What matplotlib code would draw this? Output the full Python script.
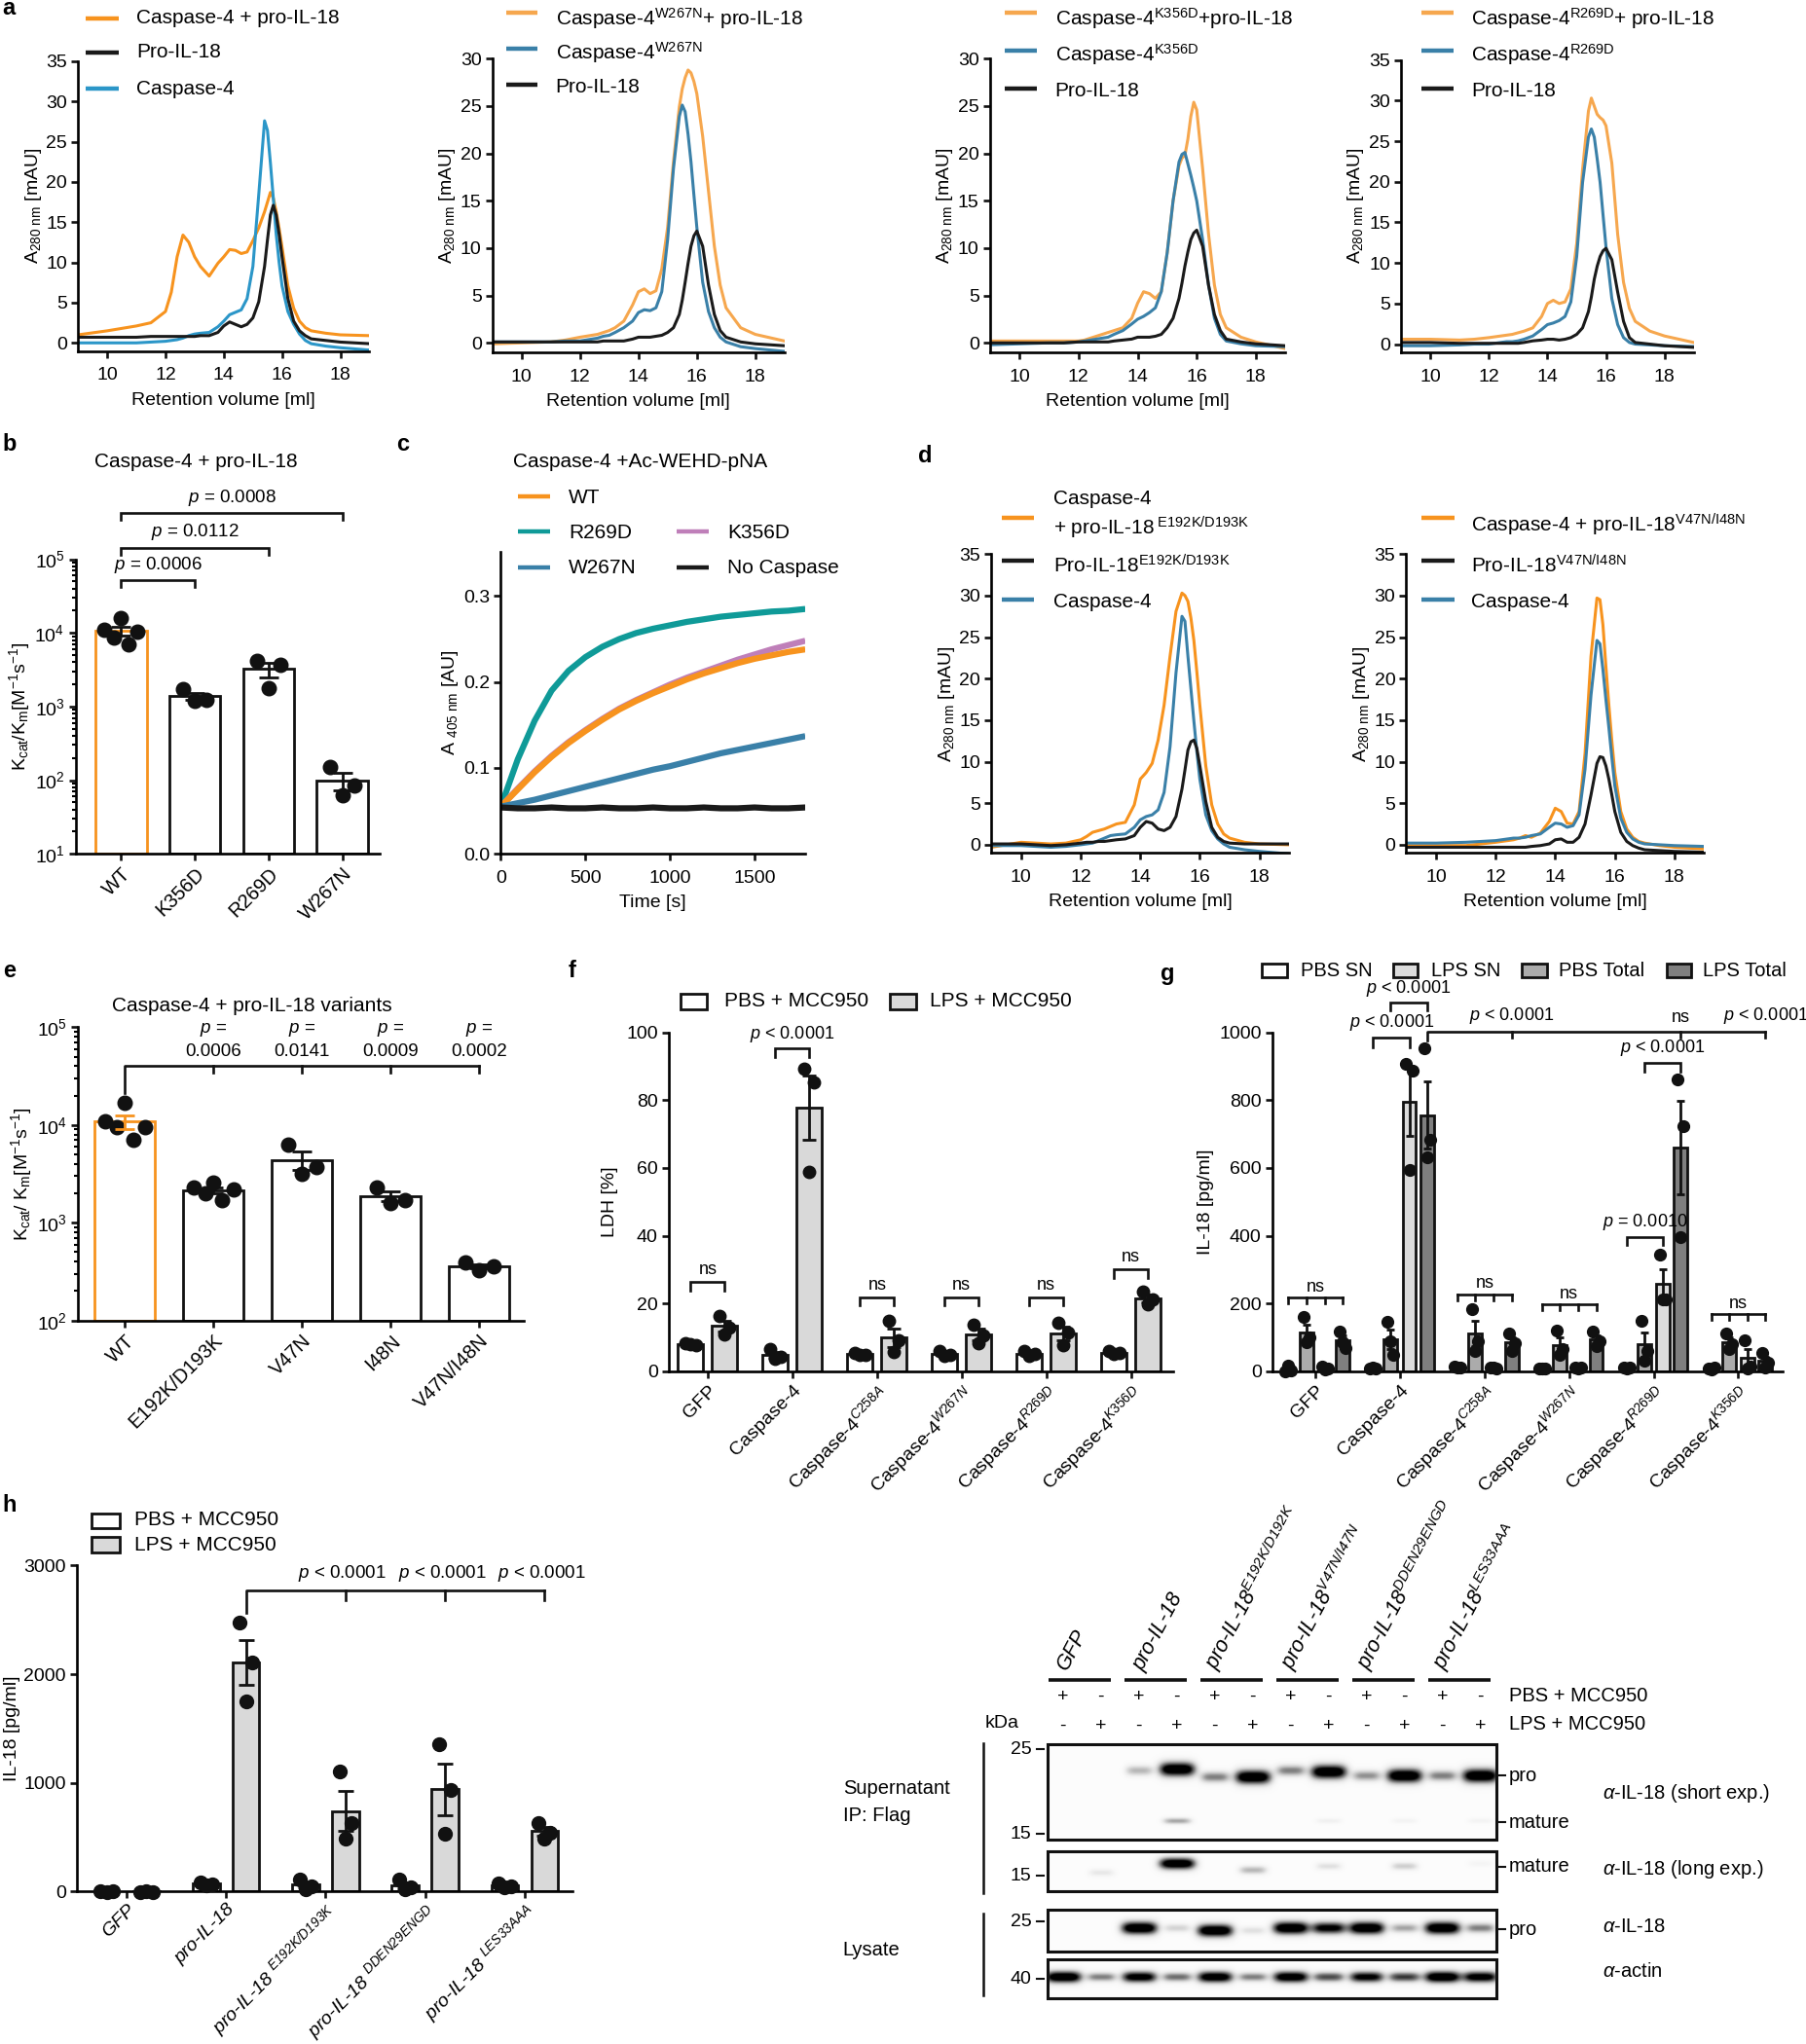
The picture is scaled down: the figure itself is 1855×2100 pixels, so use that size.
import numpy as np
import matplotlib
matplotlib.use('Agg')
import matplotlib.pyplot as plt
from matplotlib.patches import Rectangle
from matplotlib.ticker import LogLocator, NullFormatter

plt.rcParams['font.family'] = ['Liberation Sans', 'DejaVu Sans']
plt.rcParams['mathtext.fontset'] = 'custom'
plt.rcParams['mathtext.rm'] = 'Liberation Sans'
plt.rcParams['mathtext.it'] = 'Liberation Sans:italic'
plt.rcParams['mathtext.bf'] = 'Liberation Sans:bold'

# ---------------- data ----------------
# size-exclusion chromatograms (retention volume in ml, A280 in mAU)
vol = [9, 10, 11, 11.5, 12, 12.2, 12.4, 12.6, 12.8, 13, 13.2, 13.5, 13.8, 14, 14.2,
       14.4, 14.6, 14.8, 15, 15.2, 15.4, 15.5, 15.6, 15.7, 15.8, 15.9, 16, 16.2,
       16.4, 16.6, 16.8, 17, 17.5, 18, 19]

a1_mix = [1.0, 1.5, 2.1, 2.5, 3.9, 6.3, 10.7, 13.4, 12.5, 10.7, 9.5, 8.3, 9.9, 10.7, 11.6, 11.5, 11.1, 11.3,
          12.7, 14.3, 16.3, 17.5, 18.7, 18.0, 16.3, 14.2, 11.9, 7.1, 4.3, 2.7, 1.9, 1.5, 1.2, 1.0, 0.9]
a1_pro = [0.7, 0.7, 0.7, 0.8, 0.8, 0.8, 0.8, 0.8, 0.8, 0.8, 0.9, 0.9, 1.3, 2.1, 2.6, 2.3, 2.0, 2.3,
          3.1, 5.1, 9.5, 12.8, 15.9, 17.1, 15.9, 13.5, 10.7, 5.5, 2.7, 1.5, 0.9, 0.5, 0.3, 0.1, -0.1]
a1_casp = [0.0, 0.0, 0.0, 0.1, 0.2, 0.3, 0.4, 0.6, 0.9, 1.1, 1.2, 1.3, 2.0, 2.7, 3.5, 3.8, 4.1, 5.5,
           9.5, 18.4, 27.6, 26.4, 22.4, 18.0, 13.5, 10.0, 7.1, 3.9, 2.3, 1.1, 0.3, -0.1, -0.4, -0.6, -0.9]

a2_mix = [-0.1, 0.0, 0.1, 0.3, 0.6, 0.7, 0.8, 0.9, 1.1, 1.3, 1.6, 2.3, 4.0, 5.4, 5.7, 5.2, 5.5, 7.8,
          12.2, 19.1, 24.9, 26.8, 28.0, 28.8, 28.5, 27.6, 26.3, 21.8, 16.0, 10.2, 6.1, 3.7, 1.6, 0.9, 0.2]
a2_casp = [0.1, 0.1, 0.1, 0.2, 0.2, 0.3, 0.4, 0.5, 0.7, 0.8, 1.1, 1.6, 2.3, 3.2, 3.5, 3.4, 3.7, 5.4,
           10.9, 18.4, 23.9, 25.1, 24.4, 22.0, 19.1, 15.6, 12.2, 6.4, 3.3, 1.6, 0.6, 0.1, -0.4, -0.6, -0.9]
a2_pro = [0.1, 0.1, 0.1, 0.1, 0.1, 0.1, 0.1, 0.1, 0.2, 0.2, 0.2, 0.2, 0.4, 0.6, 0.6, 0.6, 0.7, 0.8,
          1.1, 1.6, 3.0, 4.5, 6.4, 8.4, 10.2, 11.3, 11.8, 10.2, 6.1, 3.0, 1.3, 0.6, 0.1, -0.1, -0.3]

a3_mix = [0.2, 0.2, 0.2, 0.2, 0.2, 0.3, 0.5, 0.7, 0.9, 1.1, 1.3, 1.6, 2.6, 4.2, 5.4, 5.2, 4.7, 5.4,
          9.5, 15.0, 18.7, 19.5, 19.8, 21.5, 23.9, 25.4, 24.6, 18.4, 11.5, 6.1, 3.0, 1.6, 0.6, 0.1, -0.6]
a3_casp = [-0.2, -0.1, 0.0, 0.0, 0.1, 0.2, 0.3, 0.4, 0.5, 0.6, 0.9, 1.3, 2.0, 2.5, 2.8, 3.2, 3.7, 5.4,
           9.5, 15.0, 19.1, 19.9, 20.1, 18.9, 17.7, 16.4, 15.0, 10.9, 6.1, 2.6, 0.9, 0.2, -0.1, -0.3, -0.4]
a3_pro = [0.0, 0.0, 0.0, 0.0, 0.1, 0.1, 0.1, 0.1, 0.1, 0.1, 0.2, 0.3, 0.4, 0.6, 0.6, 0.6, 0.7, 0.9,
          1.6, 2.6, 4.7, 6.3, 8.1, 9.6, 10.9, 11.6, 11.9, 10.2, 6.1, 3.0, 1.3, 0.4, 0.1, -0.1, -0.3]

a4_mix = [0.6, 0.6, 0.5, 0.6, 0.8, 0.9, 1.0, 1.1, 1.2, 1.4, 1.6, 2.0, 3.4, 5.0, 5.4, 5.0, 5.2, 6.8,
          12.4, 21.5, 28.7, 30.3, 29.3, 28.3, 27.9, 27.6, 26.9, 22.3, 13.5, 7.6, 4.4, 2.8, 1.6, 1.0, 0.2]
a4_casp = [-0.2, -0.2, -0.1, 0.0, 0.0, 0.1, 0.2, 0.3, 0.3, 0.4, 0.6, 1.0, 1.8, 2.4, 2.6, 2.9, 3.4, 5.2,
           10.8, 19.9, 25.5, 26.5, 25.5, 22.8, 19.9, 15.9, 12.0, 5.6, 2.4, 0.8, 0.2, 0.0, -0.1, -0.2, -0.3]
a4_pro = [0.2, 0.2, 0.1, 0.1, 0.1, 0.1, 0.1, 0.1, 0.1, 0.1, 0.2, 0.4, 0.5, 0.6, 0.6, 0.5, 0.6, 0.8,
          1.2, 2.0, 4.0, 5.8, 8.0, 9.6, 10.8, 11.5, 11.8, 10.4, 6.4, 2.8, 0.8, 0.2, 0.0, -0.2, -0.4]

d1_mix = [-0.3, 0.3, 0.1, 0.2, 0.6, 1.0, 1.5, 1.7, 1.9, 2.2, 2.5, 2.7, 4.8, 7.9, 8.7, 9.8, 12.6, 16.8,
          22.7, 28.1, 30.3, 30.0, 29.3, 27.3, 24.6, 20.8, 16.8, 9.5, 4.8, 2.5, 1.3, 0.8, 0.3, 0.1, 0.0]
d1_pro = [0.1, 0.1, -0.1, 0.0, 0.2, 0.3, 0.3, 0.4, 0.4, 0.5, 0.6, 0.7, 1.1, 2.1, 2.8, 2.6, 1.9, 1.7,
          2.1, 3.4, 6.7, 9.0, 11.4, 12.4, 12.6, 11.6, 9.5, 5.2, 2.1, 0.9, 0.4, 0.2, 0.1, 0.1, 0.1]
d1_casp = [-0.1, -0.1, -0.3, -0.2, 0.0, 0.1, 0.2, 0.5, 0.8, 1.1, 1.2, 1.3, 2.1, 3.0, 3.4, 3.6, 4.2, 6.3,
           11.8, 20.7, 27.5, 26.9, 22.7, 18.8, 14.9, 11.2, 7.9, 3.6, 1.7, 0.7, 0.1, -0.3, -0.6, -0.8, -1.1]

d2_mix = [-0.1, -0.1, -0.1, 0.1, 0.3, 0.4, 0.5, 0.6, 0.8, 1.1, 0.9, 1.4, 2.8, 4.4, 4.0, 2.6, 2.5, 4.0,
          11.0, 22.7, 29.7, 29.5, 26.5, 21.5, 16.8, 12.5, 8.7, 4.0, 1.9, 0.9, 0.4, 0.2, -0.1, -0.3, -0.5]
d2_pro = [-0.3, -0.3, -0.3, -0.3, -0.3, -0.3, -0.3, -0.3, -0.3, -0.3, -0.2, -0.1, 0.1, 0.6, 0.7, 0.3, 0.3, 0.9,
          2.5, 6.0, 9.8, 10.6, 10.5, 9.5, 7.9, 6.0, 4.0, 1.5, 0.4, -0.1, -0.4, -0.6, -0.7, -0.8, -0.9]
d2_casp = [0.2, 0.2, 0.3, 0.4, 0.5, 0.6, 0.7, 0.8, 0.8, 0.9, 1.1, 1.3, 2.1, 2.6, 2.5, 2.1, 2.3, 3.6,
           9.1, 18.0, 24.6, 24.2, 21.1, 17.5, 14.1, 10.5, 7.1, 3.2, 1.5, 0.7, 0.3, 0.1, 0.0, -0.1, -0.2]

# Ac-WEHD-pNA cleavage kinetics
time_s = [0, 100, 200, 300, 400, 500, 600, 700, 800, 900, 1000, 1100, 1200, 1300, 1400, 1500, 1600, 1700, 1800]
c_wt = [0.055, 0.075, 0.095, 0.113, 0.129, 0.143, 0.156, 0.168, 0.178, 0.187, 0.195, 0.203, 0.210, 0.216,
        0.222, 0.227, 0.231, 0.235, 0.238]
c_r269d = [0.055, 0.110, 0.155, 0.190, 0.213, 0.229, 0.241, 0.250, 0.257, 0.262, 0.266, 0.270, 0.273,
           0.276, 0.278, 0.280, 0.282, 0.283, 0.285]
c_k356d = [0.055, 0.076, 0.096, 0.114, 0.130, 0.144, 0.157, 0.169, 0.179, 0.188, 0.197, 0.205, 0.212,
           0.219, 0.226, 0.232, 0.238, 0.243, 0.248]
c_w267n = [0.055, 0.059, 0.063, 0.068, 0.073, 0.078, 0.083, 0.088, 0.093, 0.098, 0.102, 0.107, 0.112,
           0.117, 0.121, 0.125, 0.129, 0.133, 0.137]
c_none = [0.054, 0.053, 0.053, 0.054, 0.053, 0.053, 0.054, 0.053, 0.053, 0.054, 0.053, 0.053, 0.054,
          0.053, 0.053, 0.054, 0.053, 0.053, 0.054]

# kcat/Km
b_labels = ['WT', 'K356D', 'R269D', 'W267N']
b_points = [[1.6e4, 1.1e4, 1.05e4, 8.7e3, 7.0e3], [1.7e3, 1.25e3, 1.2e3], [4.2e3, 3.7e3, 1.8e3], [150, 84, 62]]
b_pvals = ['0.0006', '0.0112', '0.0008']

e_labels = ['WT', 'E192K/D193K', 'V47N', 'I48N', 'V47N/I48N']
e_points = [[1.7e4, 1.1e4, 9.5e3, 9.5e3, 7.0e3], [2.6e3, 2.3e3, 2.2e3, 2.0e3, 1.7e3],
            [6.3e3, 3.7e3, 3.2e3], [2.3e3, 1.7e3, 1.6e3], [390, 360, 330]]
e_pvals = ['0.0006', '0.0141', '0.0009', '0.0002']

# LDH release
f_labels = ['GFP', 'Caspase-4', r'Caspase-4$^{\mathit{C258A}}$', r'Caspase-4$^{\mathit{W267N}}$',
            r'Caspase-4$^{\mathit{R269D}}$', r'Caspase-4$^{\mathit{K356D}}$']
f_pbs = [[8.2, 7.6, 8.0], [6.7, 4.3, 3.8], [5.5, 5.0, 4.8], [6.0, 5.0, 4.6], [6.0, 5.2, 4.6], [6.0, 5.4, 5.2]]
f_lps = [[16.3, 13.0, 11.0], [89.4, 85.3, 58.9], [14.9, 9.1, 5.8], [13.9, 10.6, 8.2], [14.4, 11.5, 7.7],
         [23.6, 21.2, 19.7]]
f_sig = ['ns', r'$\it{p}$ < 0.0001', 'ns', 'ns', 'ns', 'ns']
f_sig_y = [26.3, 95.2, 21.8, 21.8, 21.8, 30.0]

# IL-18 release, four conditions per construct
g_pbs_sn = [[0, 4, 16], [7, 9, 10], [14, 12, 10], [7, 8, 9], [10, 12, 8], [7, 12, 5]]
g_pbs_tot = [[160, 100, 85], [146, 50, 88], [183, 90, 60], [120, 65, 50], [149, 60, 30], [112, 80, 66]]
g_lps_sn = [[14, 8, 5], [907, 886, 593], [10, 8, 12], [12, 10, 8], [345, 213, 213], [93, 15, 8]]
g_lps_tot = [[118, 70, 85], [953, 684, 631], [112, 84, 60], [118, 90, 74], [862, 724, 396], [55, 25, 12]]
g_ns_y = [218, None, 228, 199, None, 170]

# IL-18 release, pro-IL-18 variants
h_labels = ['GFP', 'pro-IL-18', r'pro-IL-18 $^{\mathregular{E192K/D193K}}$',
            r'pro-IL-18 $^{\mathregular{DDEN29ENGD}}$', r'pro-IL-18 $^{\mathregular{LES33AAA}}$']
h_pbs = [[5, 0, -5], [86, 69, 55], [110, 50, 25], [110, 35, 20], [75, 50, 40]]
h_lps = [[-10, -5, 0], [2472, 2108, 1752], [1107, 627, 490], [1354, 936, 531], [634, 542, 490]]

# western blot band intensities (12 lanes)
blot_groups = ['GFP', 'pro-IL-18', 'pro-IL-18$^{\\mathregular{E192K/D192K}}$', 'pro-IL-18$^{\\mathregular{V47N/I47N}}$',
               'pro-IL-18$^{\\mathregular{DDEN29ENGD}}$', 'pro-IL-18$^{\\mathregular{LES33AAA}}$']
blot_pbs = ['+', '-'] * 6
blot_lps = ['-', '+'] * 6
short_pro = [0, 0, 0.3, 1.0, 0.45, 1.0, 0.45, 1.0, 0.4, 1.0, 0.45, 1.0]
short_pro_shift = [0, 0, -2, -3, 3, 3, -2, -1, 2, 2, 2, 2]
short_mature = [0, 0, 0, 0.35, 0, 0, 0, 0.08, 0, 0.06, 0, 0.06]
long_mature = [0, 0.12, 0, 1.0, 0, 0.3, 0, 0.15, 0, 0.22, 0, 0.05]
long_mature_shift = [0, 7, 0, 0, 0, 5, 0, 2, 0, 2, 0, 0]
lys_pro = [0, 0, 1.0, 0.2, 1.0, 0.15, 1.0, 0.85, 1.0, 0.35, 1.0, 0.45]
lys_pro_shift = [0, 0, 0, 0, 2, 2, 0, 0, 0, 0, 0, 0]
actin = [1.0, 0.45, 0.9, 0.5, 0.95, 0.45, 0.95, 0.6, 0.85, 0.65, 1.0, 0.9]

# ---------------- colours ----------------
OR1 = '#F7931E'
OR2 = '#F6A74E'
BL1 = '#2B96C8'
BL2 = '#3A80A8'
TEAL = '#0F9A98'
PURP = '#BF7FB9'
BLK = '#1A1A1A'

# ---------------- layout helpers (reference pixel grid 1389 x 1568) ----------------
W, H = 1389.0, 1568.0
fig = plt.figure(figsize=(18.56, 21.0), dpi=100)


def add_ax(x0, x1, y0, y1):
    ax = fig.add_axes([x0 / W, 1 - y1 / H, (x1 - x0) / W, (y1 - y0) / H])
    ax.patch.set_alpha(0)
    return ax


def style(ax, fs=13.5, xpad=3):
    for s in ['top', 'right']:
        ax.spines[s].set_visible(False)
    for s in ['left', 'bottom']:
        ax.spines[s].set_linewidth(1.9)
    ax.tick_params(direction='out', length=5, width=1.9, labelsize=fs, pad=3, color='#111111')
    ax.tick_params(axis='x', pad=xpad)


def dots(ax, x, pts, spread, ms):
    n = len(pts)
    offs = {3: [-0.5, 0.5, 0.0], 4: [-0.75, -0.25, 0.25, 0.75], 5: [0.0, -0.7, 0.7, -0.3, 0.3]}[n]
    ax.plot([x + o * spread for o in offs], pts, 'o', ms=ms, color='#111111', zorder=5, clip_on=False)


def mean_sem(pts):
    return np.mean(pts), np.std(pts, ddof=1) / np.sqrt(len(pts))


def bracket(ax, x1, x2, y, y_end1, y_end2, lw=1.9):
    ax.plot([x1, x1, x2, x2], [y_end1, y, y, y_end2], color='#111111', lw=lw, clip_on=False,
            solid_joinstyle='miter')


# ---------------- panels a and d: chromatograms ----------------
chrom_specs = [
    ((60, 284, 47, 269.2), 35, [(a1_mix, OR1), (a1_casp, BL1), (a1_pro, BLK)], True),
    ((378.5, 603, 45, 270.3), 30, [(a2_mix, OR2), (a2_casp, BL2), (a2_pro, BLK)], True),
    ((761, 988, 45, 270.3), 30, [(a3_mix, OR2), (a3_casp, BL2), (a3_pro, BLK)], True),
    ((1077, 1302, 46, 270.2), 35, [(a4_mix, OR2), (a4_casp, BL2), (a4_pro, BLK)], False),
    ((762, 991, 425, 654.4), 35, [(d1_mix, OR1), (d1_casp, BL2), (d1_pro, BLK)], True),
    ((1081, 1310, 425, 654.4), 35, [(d2_mix, OR1), (d2_casp, BL2), (d2_pro, BLK)], True),
]
for rect, ymax, curves, has_xlabel in chrom_specs:
    ax = add_ax(*rect)
    for ydata, col in curves:
        ax.plot(vol, ydata, color=col, lw=2.2)
    ax.set_xlim(9, 19)
    ax.set_ylim(-1, ymax)
    ax.set_xticks([10, 12, 14, 16, 18])
    ax.set_yticks(list(range(0, ymax + 1, 5)))
    style(ax, fs=14, xpad=7)
    if has_xlabel:
        ax.set_xlabel('Retention volume [ml]', fontsize=14, labelpad=6)
    ax.set_ylabel(r'A$_{\mathregular{280\ nm}}$ [mAU]', fontsize=14, labelpad=2)

# ---------------- panel b ----------------
ax = add_ax(58, 292, 429, 655)
ax.set_yscale('log')
for i, pts in enumerate(b_points):
    m, s = mean_sem(pts)
    ec = OR1 if i == 0 else '#111111'
    ax.bar(i, m - 10, bottom=10, width=0.69, color='white', edgecolor=ec, lw=2, zorder=2)
    ax.errorbar(i, m, yerr=s, color='#111111', capsize=7, lw=2, capthick=2, zorder=6)
    dots(ax, i, pts, 0.32, 10.5)
ax.set_ylim(10, 1e5)
ax.set_xlim(-0.62, 3.51)
ax.yaxis.set_minor_locator(LogLocator(base=10, subs=np.arange(2, 10)))
ax.yaxis.set_minor_formatter(NullFormatter())
style(ax, fs=14)
ax.tick_params(which='minor', length=3, width=1.5)
ax.set_xticks(range(4))
ax.set_xticklabels(b_labels, rotation=45, ha='right', rotation_mode='anchor', fontsize=14.5)
ax.set_ylabel(r'K$_{\mathregular{cat}}$/K$_{\mathregular{m}}$[M$^{\mathregular{-1}}$s$^{\mathregular{-1}}$]',
              fontsize=14, labelpad=2)
for k, (yb, yt) in enumerate([(5.2e4, 4.2e4), (1.44e5, 1.16e5), (4.2e5, 3.4e5)]):
    bracket(ax, 0, k + 1, yb, yt, yt)
    ax.text((k + 1) / 2.0, yb * 1.18, r'$\it{p}$ = ' + b_pvals[k], ha='center', va='bottom', fontsize=13.5)

# ---------------- panel c ----------------
ax = add_ax(385, 619, 423, 655)
for ydata, col in [(c_r269d, TEAL), (c_k356d, PURP), (c_wt, OR1), (c_w267n, BL2), (c_none, BLK)]:
    ax.plot(time_s, ydata, color=col, lw=4.5, solid_capstyle='butt')
ax.set_xlim(0, 1800)
ax.set_ylim(0, 0.352)
ax.set_xticks([0, 500, 1000, 1500])
ax.set_yticks([0.0, 0.1, 0.2, 0.3])
ax.set_yticklabels(['0.0', '0.1', '0.2', '0.3'])
style(ax, fs=14, xpad=7)
ax.set_xlabel('Time [s]', fontsize=14, labelpad=6)
ax.set_ylabel(r'A $_{\mathregular{405\ nm}}$ [AU]', fontsize=14, labelpad=2)

# ---------------- panel e ----------------
ax = add_ax(60, 403, 788, 1013)
ax.set_yscale('log')
for i, pts in enumerate(e_points):
    m, s = mean_sem(pts)
    ec = OR1 if i == 0 else '#111111'
    ax.bar(i, m - 100, bottom=100, width=0.68, color='white', edgecolor=ec, lw=2, zorder=2)
    dots(ax, i, pts, 0.32, 10.5)
    ax.errorbar(i, m, yerr=s, color=ec, capsize=7, lw=2, capthick=2, zorder=6)
ax.set_ylim(100, 1e5)
ax.set_xlim(-0.53, 4.51)
ax.yaxis.set_minor_locator(LogLocator(base=10, subs=np.arange(2, 10)))
ax.yaxis.set_minor_formatter(NullFormatter())
style(ax, fs=14)
ax.tick_params(which='minor', length=3, width=1.5)
ax.set_xticks(range(5))
ax.set_xticklabels(e_labels, rotation=45, ha='right', rotation_mode='anchor', fontsize=14.5)
ax.set_ylabel(r'K$_{\mathregular{cat}}$/ K$_{\mathregular{m}}$[M$^{\mathregular{-1}}$s$^{\mathregular{-1}}$]',
              fontsize=14, labelpad=2)
ax.plot([0, 0, 4], [2.1e4, 4.0e4, 4.0e4], color='#111111', lw=1.9, clip_on=False)
for i in range(1, 5):
    ax.plot([i, i], [4.0e4, 3.45e4], color='#111111', lw=1.9, clip_on=False)
    ax.text(i, 7.6e4, r'$\it{p}$ =', ha='center', va='bottom', fontsize=13.5)
    ax.text(i, 4.6e4, e_pvals[i - 1], ha='center', va='bottom', fontsize=13.5)

# ---------------- panel f ----------------
ax = add_ax(514, 902, 792, 1052)
for i in range(6):
    for off, pts, col in [(-0.2, f_pbs[i], 'white'), (0.2, f_lps[i], '#D9D9D9')]:
        m, s = mean_sem(pts)
        ax.bar(i + off, m, width=0.3, color=col, edgecolor='#111111', lw=2, zorder=2)
        dots(ax, i + off, pts, 0.12, 9)
        ax.errorbar(i + off, m, yerr=s, color='#111111', capsize=5, lw=2, capthick=2, zorder=6)
    y = f_sig_y[i]
    bracket(ax, i - 0.2, i + 0.2, y, y - 2.4, y - 2.4)
    ax.text(i, y + 1.2, f_sig[i], ha='center', va='bottom', fontsize=13)
ax.set_xlim(-0.46, 5.5)
ax.set_ylim(0, 100)
ax.set_yticks(range(0, 101, 20))
ax.set_xticks(range(6))
ax.set_xticklabels(f_labels, rotation=45, ha='right', rotation_mode='anchor', fontsize=14)
style(ax, fs=14)
ax.set_ylabel('LDH [%]', fontsize=14, labelpad=6)

# ---------------- panel g ----------------
ax = add_ax(978, 1370, 792, 1052)
g_offs = [-0.32, -0.11, 0.11, 0.32]
g_cols = ['white', '#ABABAB', '#DCDCDC', '#7F7F7F']
for i in range(6):
    for j, series in enumerate([g_pbs_sn, g_pbs_tot, g_lps_sn, g_lps_tot]):
        m, s = mean_sem(series[i])
        x = i + g_offs[j]
        ax.bar(x, m, width=0.16, color=g_cols[j], edgecolor='#111111', lw=2, zorder=2)
        dots(ax, x, series[i], 0.07, 8.5)
        ax.errorbar(x, m, yerr=s, color='#111111', capsize=3, lw=2, capthick=2, zorder=6)
    if g_ns_y[i] is not None:
        y = g_ns_y[i]
        ax.plot([i - 0.32, i + 0.32], [y, y], color='#111111', lw=1.9, clip_on=False)
        for x in g_offs:
            ax.plot([i + x, i + x], [y, y - 18], color='#111111', lw=1.9, clip_on=False)
        ax.text(i, y + 6, 'ns', ha='center', va='bottom', fontsize=13)
P01 = r'$\it{p}$ < 0.0001'
bracket(ax, 1 - 0.32, 1 + 0.11, 985, 955, 955)
ax.text(1 - 0.1, 1000, P01, ha='center', va='bottom', fontsize=13)
bracket(ax, 1 - 0.11, 1 + 0.32, 1088, 1066, 1066)
ax.text(1 + 0.1, 1100, P01, ha='center', va='bottom', fontsize=13)
ax.plot([1.32, 1.32, 5.32], [975, 1002, 1002], color='#111111', lw=1.9, clip_on=False)
for x, lab in [(2.32, P01), (4.32, 'ns'), (5.32, P01)]:
    ax.plot([x, x], [1002, 985], color='#111111', lw=1.9, clip_on=False)
    ax.text(x, 1018, lab, ha='center', va='bottom', fontsize=13)
bracket(ax, 4 - 0.11, 4 + 0.32, 910, 885, 885)
ax.text(4 + 0.1, 925, P01, ha='center', va='bottom', fontsize=13)
bracket(ax, 4 - 0.32, 4 + 0.11, 396, 372, 372)
ax.text(4 - 0.1, 410, r'$\it{p}$ = 0.0010', ha='center', va='bottom', fontsize=13)
ax.set_xlim(-0.51, 5.52)
ax.set_ylim(0, 1000)
ax.set_yticks(range(0, 1001, 200))
ax.set_xticks(range(6))
ax.set_xticklabels(f_labels, rotation=45, ha='right', rotation_mode='anchor', fontsize=14)
style(ax, fs=14)
ax.set_ylabel('IL-18 [pg/ml]', fontsize=14, labelpad=4)

# ---------------- panel h ----------------
ax = add_ax(59, 440, 1201, 1451)
for i in range(5):
    for off, pts, col in [(-0.2, h_pbs[i], 'white'), (0.2, h_lps[i], '#D9D9D9')]:
        m, s = mean_sem(pts)
        ax.bar(i + off, m, width=0.27, color=col, edgecolor='#111111', lw=2, zorder=2)
        dots(ax, i + off, pts, 0.12, 10)
        ax.errorbar(i + off, m, yerr=s, color='#111111', capsize=6, lw=2, capthick=2, zorder=6)
ax.plot([1.2, 1.2, 4.2], [2566, 2772, 2772], color='#111111', lw=1.9, clip_on=False)
for x in [2.2, 3.2, 4.2]:
    ax.plot([x, x], [2772, 2686], color='#111111', lw=1.9, clip_on=False)
    ax.text(x - 0.03, 2830, P01, ha='center', va='bottom', fontsize=13.5)
ax.set_xlim(-0.5, 4.48)
ax.set_ylim(0, 3000)
ax.set_yticks([0, 1000, 2000, 3000])
ax.set_xticks(range(5))
ax.set_xticklabels(h_labels, rotation=45, ha='right', rotation_mode='anchor', fontsize=12, style='italic')
style(ax, fs=14)
ax.tick_params(axis='x', pad=2)
ax.set_ylabel('IL-18 [pg/ml]', fontsize=14, labelpad=2)

# ---------------- overlay axes for free text, legends, blot ----------------
bg = fig.add_axes([0, 0, 1, 1], zorder=10)
bg.patch.set_alpha(0)
bg.set_xlim(0, W)
bg.set_ylim(H, 0)
bg.axis('off')


def T(x, y, s, **kw):
    kw.setdefault('fontsize', 15)
    kw.setdefault('va', 'center')
    bg.text(x, y, s, **kw)


def legline(x0, x1, y, col, lw=3.2):
    bg.plot([x0, x1], [y, y], color=col, lw=lw, solid_capstyle='butt')


def legbox(x0, y0, w, h, col):
    bg.add_patch(Rectangle((x0, y0), w, h, facecolor=col, edgecolor='#111111', lw=2))


# panel letters
for lab, x, y in [('a', 2, 6), ('b', 2, 341), ('c', 305, 341), ('d', 706, 350), ('e', 2, 745),
                  ('f', 437, 745), ('g', 892, 747), ('h', 2, 1155)]:
    T(x, y, lab, fontsize=17, fontweight='bold')

# panel a legends
a_leg = [
    (66, 91, 105, [(14, 14, OR1, 'Caspase-4 + pro-IL-18'), (40, 40, BLK, 'Pro-IL-18'), (68, 68, BL1, 'Caspase-4')]),
    (389, 413, 427, [(10, 14, OR2, r'Caspase-4$^{\mathregular{W267N}}$+ pro-IL-18'),
                     (37, 40, BL2, r'Caspase-4$^{\mathregular{W267N}}$'), (65, 67, BLK, 'Pro-IL-18')]),
    (772, 797, 811, [(10, 14, OR2, r'Caspase-4$^{\mathregular{K356D}}$+pro-IL-18'),
                     (39, 42, BL2, r'Caspase-4$^{\mathregular{K356D}}$'), (68, 70, BLK, 'Pro-IL-18')]),
    (1093, 1117, 1131, [(10, 14, OR2, r'Caspase-4$^{\mathregular{R269D}}$+ pro-IL-18'),
                        (39, 42, BL2, r'Caspase-4$^{\mathregular{R269D}}$'), (68, 70, BLK, 'Pro-IL-18')]),
]
for lx0, lx1, tx, items in a_leg:
    for yl, yt, col, lab in items:
        legline(lx0, lx1, yl, col)
        T(tx, yt, lab)

# panel d legends
legline(770, 795, 397, OR1)
T(810, 383, 'Caspase-4')
T(810, 405, r'+ pro-IL-18$^{\mathregular{\ E192K/D193K}}$')
legline(770, 795, 430, BLK)
T(810, 434, r'Pro-IL-18$^{\mathregular{E192K/D193K}}$')
legline(770, 795, 460, BL2)
T(810, 462, 'Caspase-4')
legline(1093, 1118, 397, OR1)
T(1131, 403, r'Caspase-4 + pro-IL-18$^{\mathregular{V47N/I48N}}$')
legline(1093, 1118, 430, BLK)
T(1131, 434, r'Pro-IL-18$^{\mathregular{V47N/I48N}}$')
legline(1093, 1118, 460, BL2)
T(1131, 462, 'Caspase-4')

# titles of b, c, e
T(151, 354, 'Caspase-4 + pro-IL-18', ha='center')
T(492, 354, 'Caspase-4 +Ac-WEHD-pNA', ha='center')
T(194, 772, 'Caspase-4 + pro-IL-18 variants', ha='center')

# panel c legend
for lx, ly, col, lab in [(398, 381, OR1, 'WT'), (398, 408, TEAL, 'R269D'), (520, 408, PURP, 'K356D'),
                         (398, 435, BL2, 'W267N'), (520, 435, BLK, 'No Caspase')]:
    legline(lx, lx + 25, ly, col)
    T(lx + 39, ly + 1, lab)

# panel f legend
legbox(523, 762, 20, 12, 'white')
T(557, 768, 'PBS + MCC950')
legbox(684, 762, 20, 12, '#D9D9D9')
T(715, 768, 'LPS + MCC950')

# panel g legend
for bx, tx, col, lab in [(970, 1000, 'white', 'PBS SN'), (1071, 1100, '#DCDCDC', 'LPS SN'),
                         (1170, 1198, '#ABABAB', 'PBS Total'), (1281, 1309, '#7F7F7F', 'LPS Total')]:
    legbox(bx, 739, 19, 11, col)
    T(tx, 745, lab, fontsize=14.5)

# panel h legend
legbox(70, 1161, 22, 11, 'white')
T(103, 1166, 'PBS + MCC950')
legbox(70, 1179, 22, 12, '#D9D9D9')
T(103, 1185, 'LPS + MCC950')

# ---------------- western blot ----------------
BX0, BX1 = 805, 1150
lanes = np.linspace(BX0 + 12, BX1 - 12, 12)


def blot_box(y0, y1, bands):
    xs = np.linspace(BX0, BX1, 460)
    ys = np.linspace(y0, y1, 90)
    X, Y = np.meshgrid(xs, ys)
    img = np.full(X.shape, 0.02)
    for vals, ypos, shifts, sy in bands:
        for k, v in enumerate(vals):
            if v <= 0:
                continue
            sx = 9.0 + 5.0 * v
            yc = ypos + shifts[k]
            img += v * np.exp(-((X - lanes[k]) / sx) ** 4) * np.exp(-((Y - yc) / (sy * (0.6 + 0.5 * v))) ** 2)
    img = np.clip(img * 1.25, 0, 1)
    bg.imshow(img, extent=(BX0, BX1, y1, y0), cmap='Greys', vmin=0, vmax=1, aspect='auto',
              interpolation='bilinear', zorder=1)
    bg.add_patch(Rectangle((BX0, y0), BX1 - BX0, y1 - y0, facecolor='none', edgecolor='#111111', lw=2.2, zorder=2))


zero = [0] * 12
blot_box(1338, 1411, [(short_pro, 1360, short_pro_shift, 5.0), (short_mature, 1397, zero, 3.0)])
blot_box(1420, 1451, [(long_mature, 1430, long_mature_shift, 4.0)])
blot_box(1465, 1497, [(lys_pro, 1479, lys_pro_shift, 4.5)])
blot_box(1503, 1533, [(actin, 1517, zero, 4.0)])
bg.set_xlim(0, W)
bg.set_ylim(H, 0)

for y, lab in [(1342, '25'), (1407, '15'), (1439, '15'), (1474, '25'), (1518, '40')]:
    T(793, y, lab, ha='right', fontsize=14)
    bg.plot([797, 802], [y, y], color='#111111', lw=1.5)
for y, lab in [(1362, 'pro'), (1398, 'mature'), (1432, 'mature'), (1480, 'pro')]:
    bg.plot([1152, 1157], [y, y], color='#111111', lw=1.5)
    T(1160, y, lab, fontsize=14.5)
for y, lab in [(1376, r'$\alpha$-IL-18 (short exp.)'), (1434, r'$\alpha$-IL-18 (long exp.)'),
               (1478, r'$\alpha$-IL-18'), (1512, r'$\alpha$-actin')]:
    T(1232, y, lab, fontsize=14.5)
T(1160, 1301, 'PBS + MCC950', fontsize=14.5)
T(1160, 1323, 'LPS + MCC950', fontsize=14.5)
T(757, 1322, 'kDa', fontsize=14)
for k in range(12):
    T(lanes[k], 1302, blot_pbs[k], ha='center', fontsize=14)
    T(lanes[k], 1324, blot_lps[k], ha='center', fontsize=14)
for g in range(6):
    xa, xb = lanes[2 * g], lanes[2 * g + 1]
    bg.plot([xa - 11, xb + 8], [1289, 1289], color='#111111', lw=2.6, solid_capstyle='butt')
    T((xa + xb) / 2 - 8, 1284, blot_groups[g], rotation=62, ha='left', va='bottom',
      rotation_mode='anchor', style='italic', fontsize=15.5)
T(648, 1372, 'Supernatant', fontsize=14.5)
T(648, 1393, 'IP: Flag', fontsize=14.5)
T(648, 1496, 'Lysate', fontsize=14.5)
bg.plot([756, 756], [1337, 1452], color='#111111', lw=1.8)
bg.plot([756, 756], [1468, 1531], color='#111111', lw=1.8)

fig.savefig('out.png', dpi=100)
